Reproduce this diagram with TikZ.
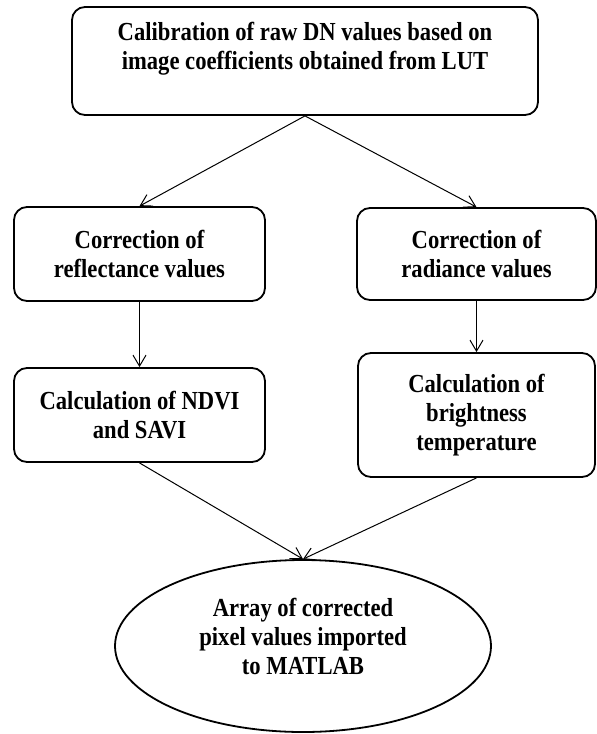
\documentclass[tikz,border=0pt]{standalone}
\usepackage{fontspec}
\setmainfont{Liberation Serif}[FakeStretch=0.87]
\usetikzlibrary{shapes.geometric,arrows.meta}
\begin{document}
\begin{tikzpicture}[x=1pt,y=-1pt,
  txt/.style={font=\fontsize{26}{29}\selectfont\bfseries},
  box/.style={draw, line width=1.8pt, rounded corners=13pt, align=center, inner sep=0pt, txt},
  topbox/.style={draw, line width=1.8pt, rounded corners=13pt, inner sep=0pt, txt},
  oval/.style={draw, ellipse, line width=1.8pt, inner sep=0pt, txt},
  arr/.style={-{Straight Barb[length=11pt,width=13pt]}, line width=1pt}]
\useasboundingbox (0,0) rectangle (597,734);
\fill[white] (0,0) rectangle (597,734);

\node[topbox, minimum width=466pt, minimum height=108pt] (top) at (305,61)
  {\parbox[c][108pt][t]{440pt}{\centering\vspace*{15pt}Calibration of raw DN values based on\\image coefficients obtained from LUT}};

\node[box, minimum width=251pt, minimum height=94pt] (L1) at (139.5,254) {Correction of\\reflectance values};
\node[box, minimum width=239pt, minimum height=92pt] (R1) at (476.5,254) {Correction of\\radiance values};
\node[box, minimum width=251pt, minimum height=94pt] (L2) at (139.5,415) {Calculation of NDVI\\and SAVI};
\node[box, minimum width=237pt, minimum height=124pt] (R2) at (476.5,415) {Calculation of\\brightness\\temperature};
\node[oval, minimum width=376pt, minimum height=172pt] (E) at (303,646)
  {\raisebox{0pt}[\height][\dimexpr\depth+12pt\relax]{\begin{tabular}{@{}c@{}}Array of corrected\\pixel values imported\\to MATLAB\end{tabular}}};

\draw[arr] (top.south) -- (L1.north);
\draw[arr] (top.south) -- (R1.north);
\draw[arr] (L1.south) -- (L2.north);
\draw[arr] (R1.south) -- (R2.north);
\draw[arr] (L2.south) -- (E.north);
\draw[arr] (R2.south) -- (E.north);
\end{tikzpicture}
\end{document}
